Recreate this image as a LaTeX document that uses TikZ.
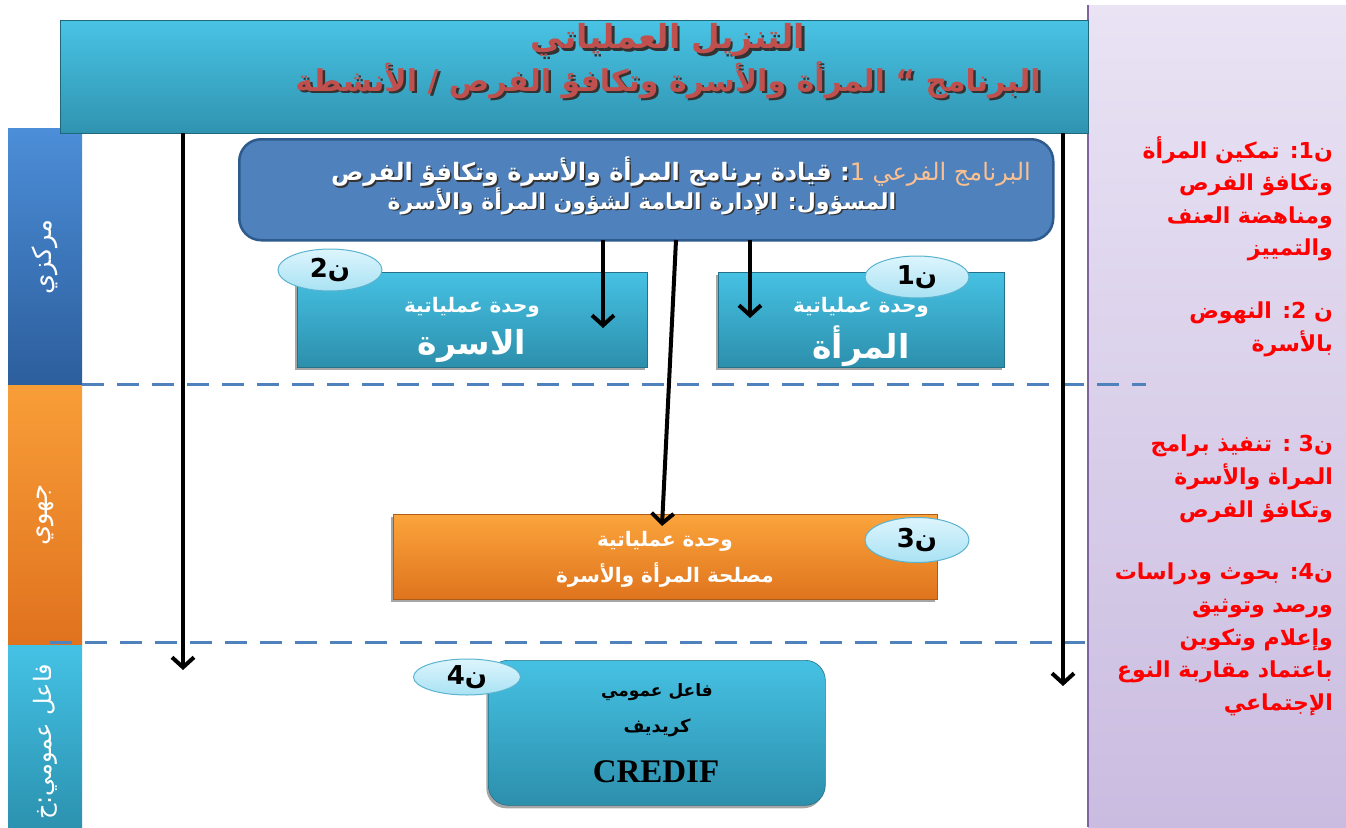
\documentclass[tikz,border=0pt]{standalone}
\usepackage{fontspec}
\usetikzlibrary{arrows.meta,shapes.geometric,shadows}
\TeXXeTstate=1
\newfontfamily\ar[Script=Arabic]{DejaVu Sans}
\newfontfamily\tms{Liberation Serif}
\definecolor{cyT}{HTML}{46C1E3}
\definecolor{cyB}{HTML}{2C8FAC}
\definecolor{hdT}{HTML}{49C3E4}
\definecolor{hdB}{HTML}{2F93B0}
\definecolor{bbox}{HTML}{4F81BD}
\definecolor{bboxD}{HTML}{2E5B8E}
\definecolor{orT}{HTML}{FBA43C}
\definecolor{orB}{HTML}{DF741D}
\definecolor{elT}{HTML}{DDF5FD}
\definecolor{elB}{HTML}{A9E2F3}
\definecolor{elD}{HTML}{5AB3CF}
\definecolor{ttl}{HTML}{C0504D}
\definecolor{lavT}{HTML}{E9E3F4}
\definecolor{lavB}{HTML}{CABCE0}
\definecolor{lavD}{HTML}{7F64A0}
\definecolor{lbT}{HTML}{4C8ED8}
\definecolor{lbB}{HTML}{2C5E9C}
\definecolor{loT}{HTML}{F89E38}
\definecolor{loB}{HTML}{E0721E}
\definecolor{lcT}{HTML}{44C2E5}
\definecolor{lcB}{HTML}{2C92B0}
\definecolor{dash}{HTML}{4F81BD}
\definecolor{lor}{HTML}{FAC090}
\begin{document}
\begin{tikzpicture}[x=1pt,y=-1pt,
  cybox/.style={rectangle,top color=cyT,bottom color=cyB,draw=cyB!80!black,line width=0.6pt,inner sep=0pt,
    drop shadow={shadow xshift=-2pt,shadow yshift=-3pt,opacity=0.7}},
  orbox/.style={rectangle,top color=orT,bottom color=orB,draw=orB!80!black,line width=0.6pt,inner sep=0pt,
    drop shadow={shadow xshift=-2pt,shadow yshift=-3pt,opacity=0.7}},
  tag/.style={ellipse,top color=elT,bottom color=elB,draw=elD,line width=1pt,inner sep=0pt,
    font=\ar\bfseries\fontsize{26}{28}\selectfont},
  wtx/.style={text=white,font=\ar\bfseries\fontsize{20}{22}\selectfont,inner sep=0pt},
  big/.style={text=white,font=\ar\bfseries\fontsize{33}{36}\selectfont,inner sep=0pt},
  rtx/.style={text=red,font=\ar\bfseries\fontsize{22}{32.6}\selectfont,align=right,inner sep=0pt,anchor=north east},
  arr/.style={line width=4pt,-{Straight Barb[length=10pt,width=22pt,line width=4pt]}},
  dln/.style={draw=dash,line width=3pt,dash pattern=on 22pt off 13pt},
  side/.style={text=white,font=\ar\fontsize{26}{28}\selectfont,rotate=90,inner sep=0pt},
  shd/.style={text=black!80,inner sep=0pt},
  btx/.style={text=white,inner sep=0pt}
]
\useasboundingbox (0,0) rectangle (1346,827);
% right panel
\node[rectangle,top color=lavT,bottom color=lavB,minimum width=258pt,minimum height=822pt,inner sep=0pt,anchor=north west] (panel) at (1088,5) {};
\draw[lavD,line width=2pt] (panel.north west) -- (panel.south west);
% left column
\node[rectangle,top color=lbT,bottom color=lbB,minimum width=74pt,minimum height=257pt,inner sep=0pt,anchor=north west] (colA) at (8,128) {};
\node[rectangle,top color=loT,bottom color=loB,minimum width=74pt,minimum height=260pt,inner sep=0pt,anchor=north west] (colB) at (8,385) {};
\node[rectangle,top color=lcT,bottom color=lcB,minimum width=74pt,minimum height=182pt,inner sep=0pt,anchor=north west] (colC) at (8,645) {};
\node[side] (sA) at (45,257) {\beginR مركزي\endR};
\node[side] (sB) at (45,515) {\beginR جهوي\endR};
\node[side,font=\ar\fontsize{24}{26}\selectfont] (sC) at (45,742) {\beginR فاعل عمومي:خ\endR};
% header
\node[rectangle,top color=hdT,bottom color=hdB,draw=hdB!70!black,line width=1pt,minimum width=1028pt,minimum height=113pt,inner sep=0pt,anchor=north west] (hdr) at (60,20) {};
\node[shd,font=\ar\bfseries\fontsize{33}{36}\selectfont] at (670.5,42.5) {\beginR التنزيل العملياتي\endR};
\node[text=ttl,inner sep=0pt,font=\ar\bfseries\fontsize{33}{36}\selectfont] (t1) at (668,40) {\beginR التنزيل العملياتي\endR};
\node[shd,font=\ar\bfseries\fontsize{30}{33}\selectfont] at (670.5,82.5) {\beginR البرنامج “ المرأة والأسرة وتكافؤ الفرص / الأنشطة\endR};
\node[text=ttl,inner sep=0pt,font=\ar\bfseries\fontsize{30}{33}\selectfont] (t2) at (668,80) {\beginR البرنامج “ المرأة والأسرة وتكافؤ الفرص / الأنشطة\endR};
% dashed lines
\coordinate (d1a) at (82,384); \coordinate (d1b) at (1146,384);
\coordinate (d2a) at (50,642); \coordinate (d2b) at (1085,642);
\draw[dln] (d1a) -- (d1b);
\draw[dln] (d2a) -- (d2b);
% blue box
\node[rectangle,rounded corners=22pt,fill=bbox,draw=bboxD,line width=2.5pt,minimum width=814pt,minimum height=101pt,inner sep=0pt,anchor=north west] (pb) at (238,138) {};
\node[shd,font=\ar\bfseries\fontsize{24}{26}\selectfont,anchor=east] at (1032.5,173.5) {\beginR قيادة برنامج المرأة والأسرة وتكافؤ الفرص\endR\ :{\color{bbox}\mdseries\beginR البرنامج الفرعي 1\endR}};
\node[btx,font=\ar\bfseries\fontsize{24}{26}\selectfont,anchor=east] (pl1) at (1031,172) {\beginR قيادة برنامج المرأة والأسرة وتكافؤ الفرص\endR\ :{\color{lor}\mdseries\beginR البرنامج الفرعي 1\endR}};
\node[shd,font=\ar\bfseries\fontsize{22}{24}\selectfont] at (643.5,202.5) {\beginR المسؤول: الإدارة العامة لشؤون المرأة والأسرة\endR};
\node[btx,font=\ar\bfseries\fontsize{22}{24}\selectfont] (pl2) at (642,201) {\beginR المسؤول: الإدارة العامة لشؤون المرأة والأسرة\endR};
% unit boxes
\node[cybox,minimum width=350pt,minimum height=95pt,anchor=north west] (u2) at (297,272) {};
\node[cybox,minimum width=286pt,minimum height=95pt,anchor=north west] (u1) at (718,272) {};
\node[wtx] (u2a) at (472,307) {\beginR وحدة عملياتية\endR};
\node[big] (u2b) at (472,346) {\beginR الاسرة\endR};
\node[wtx] (u1a) at (861,307) {\beginR وحدة عملياتية\endR};
\node[big] (u1b) at (861,346) {\beginR المرأة\endR};
\node[tag,minimum width=104pt,minimum height=42pt] (e2) at (330,270) {\beginR ن2\endR};
\node[tag,minimum width=104pt,minimum height=42pt] (e1) at (917,277) {\beginR ن1\endR};
% orange
\node[orbox,minimum width=544pt,minimum height=85pt,anchor=north west] (u3) at (393,514) {};
\node[wtx] (u3a) at (665,541) {\beginR وحدة عملياتية\endR};
\node[wtx] (u3b) at (665,575) {\beginR مصلحة المرأة والأسرة\endR};
\node[tag,minimum width=104pt,minimum height=45pt] (e3) at (917,540) {\beginR ن3\endR};
% CREDIF
\node[cybox,rounded corners=20pt,minimum width=337pt,minimum height=145pt,anchor=north west] (u4) at (488,660) {};
\node[font=\ar\bfseries\fontsize{17}{19}\selectfont,inner sep=0pt] (u4a) at (657,692) {\beginR فاعل عمومي\endR};
\node[font=\ar\bfseries\fontsize{18}{20}\selectfont,inner sep=0pt] (u4b) at (657,728) {\beginR كريديف\endR};
\node[font=\tms\bfseries\fontsize{33}{36}\selectfont,inner sep=0pt] (u4c) at (656,772) {CREDIF};
\node[tag,minimum width=107pt,minimum height=36pt] (e4) at (467,677) {\beginR ن4\endR};
% arrows
\coordinate (a1s) at (183,133); \coordinate (a1e) at (183,670);
\coordinate (a2s) at (1063,133); \coordinate (a2e) at (1063,686);
\coordinate (a3s) at (603,240); \coordinate (a3e) at (603,328);
\coordinate (a4s) at (750,240); \coordinate (a4e) at (750,318);
\coordinate (a5s) at (676,240); \coordinate (a5e) at (662,526);
\draw[arr] (a1s) -- (a1e);
\draw[arr] (a2s) -- (a2e);
\draw[arr] (a3s) -- (a3e);
\draw[arr] (a4s) -- (a4e);
\draw[arr] (a5s) -- (a5e);
% right texts
\node[rtx] (r1) at (1333,136) {\beginR ن1: تمكين المرأة\endR\\\beginR وتكافؤ الفرص\endR\\\beginR ومناهضة العنف\endR\\\beginR والتمييز\endR};
\node[rtx] (r2) at (1333,302) {\beginR ن 2: النهوض\endR\\\beginR بالأسرة\endR};
\node[rtx] (r3) at (1333,435) {\beginR ن3 : تنفيذ برامج\endR\\\beginR المراة والأسرة\endR\\\beginR وتكافؤ الفرص\endR};
\node[rtx] (r4) at (1333,563) {\beginR ن4: بحوث ودراسات\endR\\\beginR ورصد وتوثيق\quad\endR\\\beginR وإعلام وتكوين\endR\\\beginR باعتماد مقاربة النوع\endR\\\beginR الإجتماعي\endR};
\end{tikzpicture}
\end{document}
